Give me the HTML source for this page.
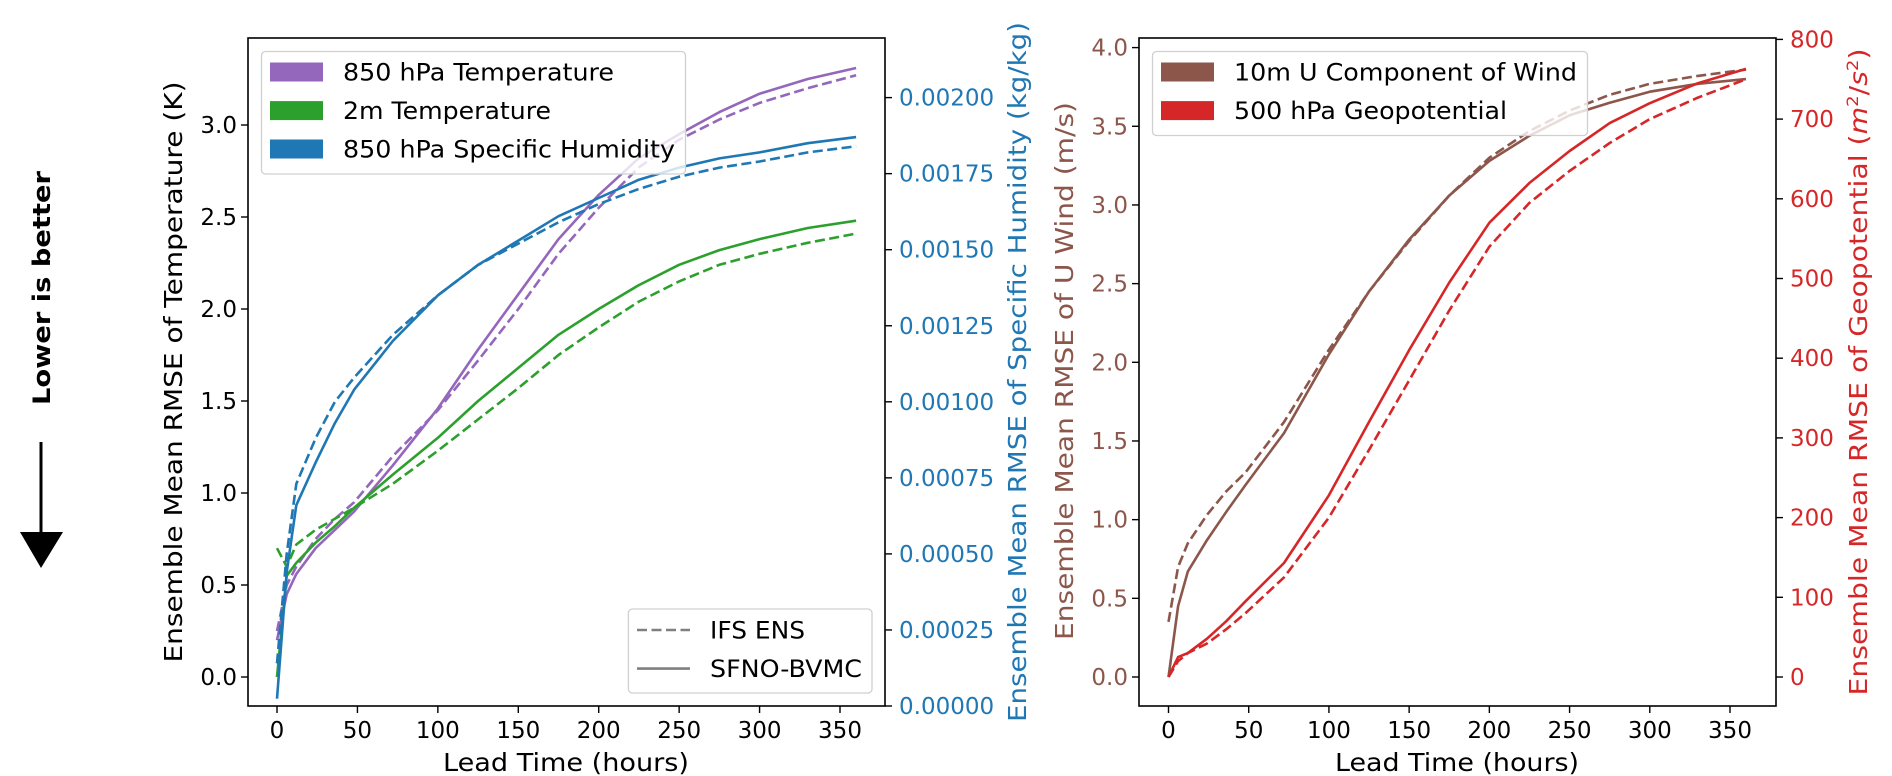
<!DOCTYPE html>
<html><head><meta charset="utf-8">
<style>
html,body{margin:0;padding:0;background:#fff;}
svg{display:block;font-family:"DejaVu Sans","Liberation Sans",sans-serif;}
</style></head>
<body>
<svg id="fig" width="1892" height="776" viewBox="0 0 1892 776" xmlns="http://www.w3.org/2000/svg">
  <g>
    <text transform="translate(50,288) rotate(-90)" text-anchor="middle" font-weight="bold" font-size="24" textLength="234" lengthAdjust="spacingAndGlyphs">Lower is better</text>
    <line x1="41" y1="442" x2="41" y2="540" stroke="#000" stroke-width="3"/>
    <polygon points="20,532 63,532 41,568" fill="#000"/>
  </g>
  <g id="left"></g>
  <g id="right"></g>
</svg>
<script>
// ---------- data (hours) ----------
const hours = [0, 6, 12, 24, 36, 48, 72, 100, 125, 150, 175, 200, 225, 250, 275, 300, 330, 360];
// Left chart, left axis (K)
const t850Sfno = [0.2, 0.45, 0.56, 0.7, 0.8, 0.9, 1.15, 1.46, 1.78, 2.08, 2.38, 2.62, 2.82, 2.95, 3.07, 3.17, 3.25, 3.31];
const t850Ifs  = [0.25, 0.5, 0.6, 0.75, 0.86, 0.95, 1.2, 1.45, 1.72, 2.0, 2.3, 2.55, 2.77, 2.92, 3.03, 3.12, 3.2, 3.27];
const t2mSfno  = [0.0, 0.55, 0.62, 0.73, 0.82, 0.92, 1.1, 1.3, 1.5, 1.68, 1.86, 2.0, 2.13, 2.24, 2.32, 2.38, 2.44, 2.48];
const t2mIfs   = [0.7, 0.6, 0.72, 0.8, 0.86, 0.92, 1.05, 1.23, 1.4, 1.57, 1.75, 1.9, 2.04, 2.15, 2.24, 2.3, 2.36, 2.41];
// Left chart, right axis (kg/kg)
const qSfno = [0.000024, 0.00044, 0.00066, 0.0008, 0.00093, 0.00104, 0.0012, 0.00135, 0.00145, 0.00153, 0.00161, 0.00167, 0.00173, 0.00177, 0.0018, 0.00182, 0.00185, 0.00187];
const qIfs  = [0.00014, 0.0005, 0.00073, 0.00088, 0.001, 0.00108, 0.00122, 0.00135, 0.00145, 0.00152, 0.00159, 0.00165, 0.0017, 0.00174, 0.00177, 0.00179, 0.00182, 0.00184];
// Right chart, left axis (m/s)
const uSfno = [0.0, 0.45, 0.67, 0.87, 1.05, 1.22, 1.55, 2.05, 2.45, 2.78, 3.06, 3.28, 3.44, 3.57, 3.65, 3.72, 3.77, 3.8];
const uIfs  = [0.35, 0.7, 0.85, 1.03, 1.18, 1.3, 1.62, 2.08, 2.45, 2.77, 3.06, 3.3, 3.47, 3.6, 3.7, 3.77, 3.82, 3.86];
// Right chart, right axis (m2/s2)
const zSfno = [0, 25, 30, 48, 70, 95, 143, 228, 320, 410, 495, 570, 620, 660, 695, 720, 745, 763];
const zIfs  = [0, 20, 30, 42, 60, 80, 125, 200, 285, 372, 460, 540, 595, 635, 670, 700, 727, 750];
// ticks
const xTicks = [0, 50, 100, 150, 200, 250, 300, 350];
const tTicks = [0.0, 0.5, 1.0, 1.5, 2.0, 2.5, 3.0];
const tTickLabels = ["0.0", "0.5", "1.0", "1.5", "2.0", "2.5", "3.0"];
const qTicks = [0, 0.00025, 0.0005, 0.00075, 0.001, 0.00125, 0.0015, 0.00175, 0.002];
const qTickLabels = ["0.00000", "0.00025", "0.00050", "0.00075", "0.00100", "0.00125", "0.00150", "0.00175", "0.00200"];
const uTicks = [0.0, 0.5, 1.0, 1.5, 2.0, 2.5, 3.0, 3.5, 4.0];
const uTickLabels = ["0.0", "0.5", "1.0", "1.5", "2.0", "2.5", "3.0", "3.5", "4.0"];
const zTicks = [0, 100, 200, 300, 400, 500, 600, 700, 800];
const zTickLabels = ["0", "100", "200", "300", "400", "500", "600", "700", "800"];

const NS = "http://www.w3.org/2000/svg";
function mk(parent, tag, attrs, txt) {
  const e = document.createElementNS(NS, tag);
  for (const k in attrs) e.setAttribute(k, attrs[k]);
  if (txt !== undefined) e.textContent = txt;
  parent.appendChild(e);
  return e;
}
function lin(d0, d1, r0, r1) { return v => r0 + (v - d0) * (r1 - r0) / (d1 - d0); }

const C = {purple:"#9467bd", green:"#2ca02c", blue:"#1f77b4", brown:"#8c564b", red:"#d62728"};

function drawLine(g, xs, ys, vals, color, dashed, name) {
  const pts = hours.map((h, i) => xs(h).toFixed(1) + "," + ys(vals[i]).toFixed(1)).join(" ");
  const p = mk(g, "polyline", {points: pts, fill: "none", stroke: color, "stroke-width": 2.6, "stroke-linejoin": "round"});
  if (dashed) p.setAttribute("stroke-dasharray", "10,4.5");
  
  
}

function frame(g, L, R, T, B, xs) {
  const r = mk(g, "rect", {x: L, y: T, width: R - L, height: B - T, fill: "none", stroke: "#000", "stroke-width": 1.6});
  
  
  xTicks.forEach(v => {
    const x = xs(v);
    const t = mk(g, "line", {x1: x, y1: B, x2: x, y2: B + 7, stroke: "#000", "stroke-width": 1.4});
    
    
    const l = mk(g, "text", {x: x, y: B + 32, "text-anchor": "middle", "font-size": 23}, String(v));
    
    
  });
}
function yAxis(g, ticks, labels, ys, x, side, color, name) {
  ticks.forEach((v, i) => {
    const y = ys(v);
    const t = mk(g, "line", {x1: x, y1: y, x2: x + (side < 0 ? -7 : 7), y2: y, stroke: "#000", "stroke-width": 1.4});
    
    
    const l = mk(g, "text", {x: side < 0 ? x - 11 : x + 14, y: y + 8, "text-anchor": side < 0 ? "end" : "start", "font-size": 23, fill: color}, labels[i]);
    
    
  });
}
function vTitle(g, x, cy, len, txt, color, name) {
  const t = mk(g, "text", {transform: `translate(${x},${cy}) rotate(-90)`, "text-anchor": "middle", "font-size": 25, fill: color, textLength: len, lengthAdjust: "spacingAndGlyphs"});
  t.innerHTML = txt;
  
  
}
function legendBox(g, x, y, w, h, name) {
  const r = mk(g, "rect", {x, y, width: w, height: h, rx: 4, fill: "rgba(255,255,255,0.8)", stroke: "#d0d0d0", "stroke-width": 1.3});
  
  
}
function patchEntry(g, x, y, color, txt, len) {
  const p = mk(g, "rect", {x, y: y - 9.5, width: 53, height: 19, fill: color});
  
  
  const t = mk(g, "text", {x: x + 73, y: y + 8.5, "font-size": 24, textLength: len, lengthAdjust: "spacingAndGlyphs"}, txt);
  
  
}

// ---------- left chart ----------
(function(){
  const g = document.getElementById("left");
  const L = 248, R = 885, T = 38, B = 706;
  const xs = lin(0, 350, 277, 840);
  const ts = lin(0, 3, 677, 125);
  const qs = lin(0, 0.002, 706, 97.6);
  drawLine(g, xs, ts, t850Ifs, C.purple, true, 't850-ifs-line');
  drawLine(g, xs, ts, t850Sfno, C.purple, false, 't850-sfno-line');
  drawLine(g, xs, ts, t2mIfs, C.green, true, 't2m-ifs-line');
  drawLine(g, xs, ts, t2mSfno, C.green, false, 't2m-sfno-line');
  drawLine(g, xs, qs, qIfs, C.blue, true, 'q850-ifs-line');
  drawLine(g, xs, qs, qSfno, C.blue, false, 'q850-sfno-line');
  frame(g, L, R, T, B, xs);
  yAxis(g, tTicks, tTickLabels, ts, L, -1, "#000", 'temperature-axis');
  yAxis(g, qTicks, qTickLabels, qs, R, 1, C.blue, 'humidity-axis');
  vTitle(g, 182, 372, 581, "Ensemble Mean RMSE of Temperature (K)", "#000", 'temperature-axis-title');
  vTitle(g, 1026, 372, 700, "Ensemble Mean RMSE of Specific Humidity (kg/kg)", C.blue, 'humidity-axis-title');
  const xt = mk(g, "text", {x: 566, y: 771, "text-anchor": "middle", "font-size": 25, textLength: 246, lengthAdjust: "spacingAndGlyphs"}, "Lead Time (hours)");
  
  
  legendBox(g, 261.5, 51.5, 424, 122.5, 'variable-legend');
  patchEntry(g, 270, 72, C.purple, "850 hPa Temperature", 271);
  patchEntry(g, 270, 110.6, C.green, "2m Temperature", 208);
  patchEntry(g, 270, 149, C.blue, "850 hPa Specific Humidity", 332);
  legendBox(g, 628.4, 609, 243.6, 84, 'model-legend');
  [[630, true, "IFS ENS", 95], [668.6, false, "SFNO-BVMC", 152]].forEach(e => {
    const l = mk(g, "line", {x1: 637, y1: e[0], x2: 690, y2: e[0], stroke: "#808080", "stroke-width": 2.6});
    if (e[1]) l.setAttribute("stroke-dasharray", "10,4.5");
    
    
    const t = mk(g, "text", {x: 710, y: e[0] + 8.5, "font-size": 24, textLength: e[3], lengthAdjust: "spacingAndGlyphs"}, e[2]);
    
    
  });
})();

// ---------- right chart ----------
(function(){
  const g = document.getElementById("right");
  const L = 1139, R = 1776, T = 38, B = 706;
  const xs = lin(0, 350, 1168.5, 1730);
  const us = lin(0, 4, 677, 47.6);
  const zs = lin(0, 800, 677, 39.4);
  drawLine(g, xs, us, uIfs, C.brown, true, 'u10-ifs-line');
  drawLine(g, xs, us, uSfno, C.brown, false, 'u10-sfno-line');
  drawLine(g, xs, zs, zIfs, C.red, true, 'z500-ifs-line');
  drawLine(g, xs, zs, zSfno, C.red, false, 'z500-sfno-line');
  frame(g, L, R, T, B, xs);
  yAxis(g, uTicks, uTickLabels, us, L, -1, C.brown, 'wind-axis');
  yAxis(g, zTicks, zTickLabels, zs, R, 1, C.red, 'geopotential-axis');
  vTitle(g, 1073, 371, 538, "Ensemble Mean RMSE of U Wind (m/s)", C.brown, 'wind-axis-title');
  vTitle(g, 1867, 372, 647, 'Ensemble Mean RMSE of Geopotential (<tspan font-style="italic">m</tspan><tspan font-size="16" dy="-9">2</tspan><tspan dy="9">/</tspan><tspan font-style="italic">s</tspan><tspan font-size="16" dy="-9">2</tspan><tspan dy="9">)</tspan>', C.red, 'geopotential-axis-title');
  const xt = mk(g, "text", {x: 1457, y: 771, "text-anchor": "middle", "font-size": 25, textLength: 244, lengthAdjust: "spacingAndGlyphs"}, "Lead Time (hours)");
  
  
  legendBox(g, 1152.5, 51.5, 435, 84, 'variable-legend');
  patchEntry(g, 1161, 72, C.brown, "10m U Component of Wind", 343);
  patchEntry(g, 1161, 110.6, C.red, "500 hPa Geopotential", 273);
})();
</script>
</body></html>
